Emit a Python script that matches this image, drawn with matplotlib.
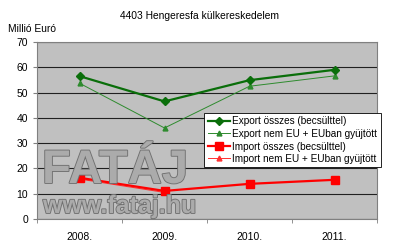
import matplotlib.pyplot as plt
import matplotlib.patheffects as pe
import numpy as np

YEARS = ['2008.', '2009.', '2010.', '2011.']
EXPORT_TOTAL = [56.5, 46.5, 54.9, 59.0]
EXPORT_NONEU = [53.7, 36.0, 52.5, 56.6]
IMPORT_TOTAL = [16.3, 11.1, 13.9, 15.5]
IMPORT_NONEU = [15.8, 10.5]

plt.rcParams['font.family'] = ['Liberation Sans', 'DejaVu Sans']

fig = plt.figure(figsize=(4.0, 2.49), dpi=100)
ax = fig.add_axes([37 / 400, 1 - 219 / 249, 340 / 400, 177 / 249])
ax.set_facecolor('#c0c0c0')

x = np.arange(len(YEARS))

# watermark behind the lines
wm = dict(color='#ababab', zorder=1, transform=fig.transFigure,
          path_effects=[pe.withStroke(linewidth=1.3, foreground='#707070')])
fig.text(42 / 400, 1 - 183 / 249, 'FATÁJ', fontsize=34, fontweight='bold',
         ha='left', va='baseline', **wm)
fig.text(43 / 400, 1 - 213 / 249, 'www.fataj.hu', fontsize=18, fontweight='bold',
         ha='left', va='baseline', **wm)

ax.plot(x, EXPORT_TOTAL, color='#0a6e0a', lw=1.6, marker='D', ms=4.5,
        label='Export összes (becsülttel)', zorder=4)
ax.plot(x, EXPORT_NONEU, color='#2e8b2e', lw=0.7, marker='^', ms=3.5,
        label='Export nem EU + EUban gyüjtött', zorder=3)
ax.plot(x, IMPORT_TOTAL, color='#ff0000', lw=1.6, marker='s', ms=6,
        label='Import összes (becsülttel)', zorder=4)
ax.plot(x[:len(IMPORT_NONEU)], IMPORT_NONEU, color='#ff3030', lw=0.7,
        marker='^', ms=3.5, label='Import nem EU + EUban gyüjtött', zorder=3)

ax.set_xlim(-0.5, len(YEARS) - 0.5)
ax.set_ylim(0, 70)
ax.set_yticks(range(0, 71, 10))
ax.set_xticks(x)
ax.set_xticklabels(YEARS)
ax.set_xticks(np.arange(-0.5, len(YEARS), 1), minor=True)
ax.tick_params(axis='x', which='major', length=0, labelsize=7.5, pad=9)
ax.tick_params(axis='x', which='minor', length=3, color='#808080')
ax.tick_params(axis='y', length=3, labelsize=7.5, color='#808080')
ax.grid(axis='y', color='#202020', lw=0.8)
ax.set_axisbelow(True)
for s in ax.spines.values():
    s.set_color('#808080')
    s.set_linewidth(0.8)

fig.text(0.5, 1 - 16 / 249, '4403 Hengeresfa külkereskedelem', ha='center',
         va='center', fontsize=7.4)
fig.text(8 / 400, 1 - 29 / 249, 'Millió Euró', ha='left', va='center', fontsize=7.4)

leg = ax.legend(loc='upper left', bbox_to_anchor=(204 / 400, 1 - 113 / 249),
                bbox_transform=fig.transFigure, fontsize=7.2, frameon=True,
                fancybox=False, edgecolor='#000000', framealpha=1,
                borderpad=0.35, labelspacing=0.25, handlelength=2.2,
                handletextpad=0.3, borderaxespad=0)
leg.get_frame().set_linewidth(0.6)
leg.set_zorder(10)

fig.savefig('out.png', dpi=100)
